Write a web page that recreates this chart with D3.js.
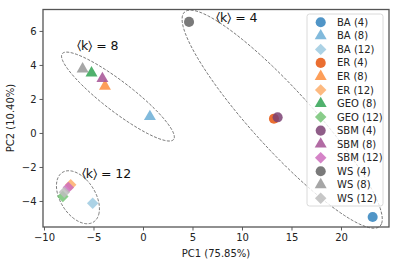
<!DOCTYPE html>
<html>
<head>
<meta charset="utf-8">
<script src="https://cdn.jsdelivr.net/npm/d3@7"></script>
<style>
  body { margin: 0; background: #fff; }
  svg { font-family: "DejaVu Sans", sans-serif; }
</style>
</head>
<body>
<div id="chart"></div>
<script>
// values
const names = ["BA (4)", "BA (8)", "BA (12)", "ER (4)", "ER (8)", "ER (12)", "GEO (8)", "GEO (12)",
  "SBM (4)", "SBM (8)", "SBM (12)", "WS (4)", "WS (8)", "WS (12)"];
const shapes = ["circle", "triangle", "diamond", "circle", "triangle", "diamond", "triangle", "diamond",
  "circle", "triangle", "diamond", "circle", "triangle", "diamond"];
const colors = ["#3182bd", "#6baed6", "#9ecae1", "#e6550d", "#fd8d3c", "#fdae6b", "#31a354", "#74c476",
  "#7b4173", "#a55194", "#ce6dbd", "#636363", "#969696", "#bdbdbd"];
const pc1 = [23.2, 0.7, -5.08, 13.23, -3.84, -7.3, -5.2, -8.1, 13.6, -4.1, -7.54, 4.65, -6.1, -7.95];
const pc2 = [-4.94, 0.96, -4.14, 0.84, 2.75, -3.04, 3.53, -3.73, 0.92, 3.2, -3.2, 6.53, 3.76, -3.49];

// group ellipses (data units): centre, semi axes, angle in degrees
const groupLabels = ["\u2329k\u232a = 4", "\u2329k\u232a = 8", "\u2329k\u232a = 12"];
const labelX = [7.37, -6.67, -6.19];
const labelY = [6.5, 4.85, -2.62];
const ellCx = [14.06, -2.53, -6.57];
const ellCy = [0.81, 2.14, -3.78];
const ellA = [11.77, 6.19, 2.33];
const ellB = [2.2, 1.0, 1.31];
const ellAngle = [-31.4, -23.3, -26];

const xTicks = [-10, -5, 0, 5, 10, 15, 20];
const yTicks = [-4, -2, 0, 2, 4, 6];

const width = 399, height = 266;
const svg = d3.select("#chart").append("svg").attr("width", width).attr("height", height);

const x = d3.scaleLinear().domain([-10.1, 24.85]).range([43, 389]);
const y = d3.scaleLinear().domain([-5.53, 7.26]).range([227, 9.5]);

const fmt = d => d < 0 ? "\u2212" + Math.abs(d) : String(d);

// axes
const xAxis = svg.append("g").attr("transform", "translate(0,227)")
  .call(d3.axisBottom(x).tickValues(xTicks).tickFormat(fmt).tickSize(3.5).tickPadding(3));
const yAxis = svg.append("g").attr("transform", "translate(43,0)")
  .call(d3.axisLeft(y).tickValues(yTicks).tickFormat(fmt).tickSize(3.5).tickPadding(3));
[xAxis, yAxis].forEach(g => {
  g.select(".domain").remove();
  g.selectAll("text").attr("font-size", 10).attr("fill", "#222").attr("font-family", "DejaVu Sans");
  g.selectAll("line").attr("stroke", "#333").attr("stroke-width", 0.8);
});

// frame
svg.append("rect").attr("x", 43).attr("y", 9.5).attr("width", 346).attr("height", 217.5)
  .attr("fill", "none").attr("stroke", "#555").attr("stroke-width", 1.3);

svg.append("text").attr("x", 216).attr("y", 257).attr("text-anchor", "middle")
  .attr("font-size", 10).attr("fill", "#222").text("PC1 (75.85%)");
svg.append("text").attr("transform", "translate(14,118) rotate(-90)").attr("text-anchor", "middle")
  .attr("font-size", 10).attr("fill", "#222").text("PC2 (10.40%)");

// ellipses
const line = d3.line().x(d => x(d[0])).y(d => y(d[1]));
groupLabels.forEach((lab, i) => {
  const th = ellAngle[i] * Math.PI / 180;
  const pts = d3.range(0, 361, 3).map(t => {
    const r = t * Math.PI / 180;
    const u = ellA[i] * Math.cos(r), v = ellB[i] * Math.sin(r);
    return [ellCx[i] + u * Math.cos(th) - v * Math.sin(th), ellCy[i] + u * Math.sin(th) + v * Math.cos(th)];
  });
  svg.append("path").attr("d", line(pts)).attr("fill", "none")
    .attr("stroke", "#555").attr("stroke-width", 0.8).attr("stroke-dasharray", "3,1.5");
  svg.append("text").attr("x", x(labelX[i])).attr("y", y(labelY[i]))
    .attr("font-size", 12.5).attr("fill", "#111").text(lab);
});

// markers
const symType = { circle: d3.symbolCircle, triangle: d3.symbolTriangle, diamond: d3.symbolSquare };
const symSize = { circle: 80, triangle: 62, diamond: 66 };
const sym = s => d3.symbol().type(symType[s]).size(symSize[s])();
const rot = s => s === "diamond" ? " rotate(45)" : "";

svg.append("g").selectAll("path")
  .data(names)
  .join("path")
  .attr("d", (d, i) => sym(shapes[i]))
  .attr("transform", (d, i) => `translate(${x(pc1[i])},${y(pc2[i])})` + rot(shapes[i]))
  .attr("fill", (d, i) => colors[i])
  .attr("fill-opacity", 0.85);

// legend
const lg = svg.append("g");
lg.append("rect").attr("x", 307).attr("y", 14).attr("width", 76).attr("height", 192).attr("rx", 2.5)
  .attr("fill", "white").attr("fill-opacity", 0.8).attr("stroke", "#d0d0d0").attr("stroke-width", 0.8);
const rowY = i => 22.3 + i * 13.54;
lg.selectAll("path")
  .data(names)
  .join("path")
  .attr("d", (d, i) => sym(shapes[i]))
  .attr("transform", (d, i) => `translate(320.7,${rowY(i)})` + rot(shapes[i]))
  .attr("fill", (d, i) => colors[i])
  .attr("fill-opacity", 0.85);
lg.selectAll("text")
  .data(names)
  .join("text")
  .attr("x", 337)
  .attr("y", (d, i) => rowY(i))
  .attr("dy", "0.35em")
  .attr("font-size", 10)
  .attr("fill", "#222")
  .text(d => d);
</script>
</body>
</html>
